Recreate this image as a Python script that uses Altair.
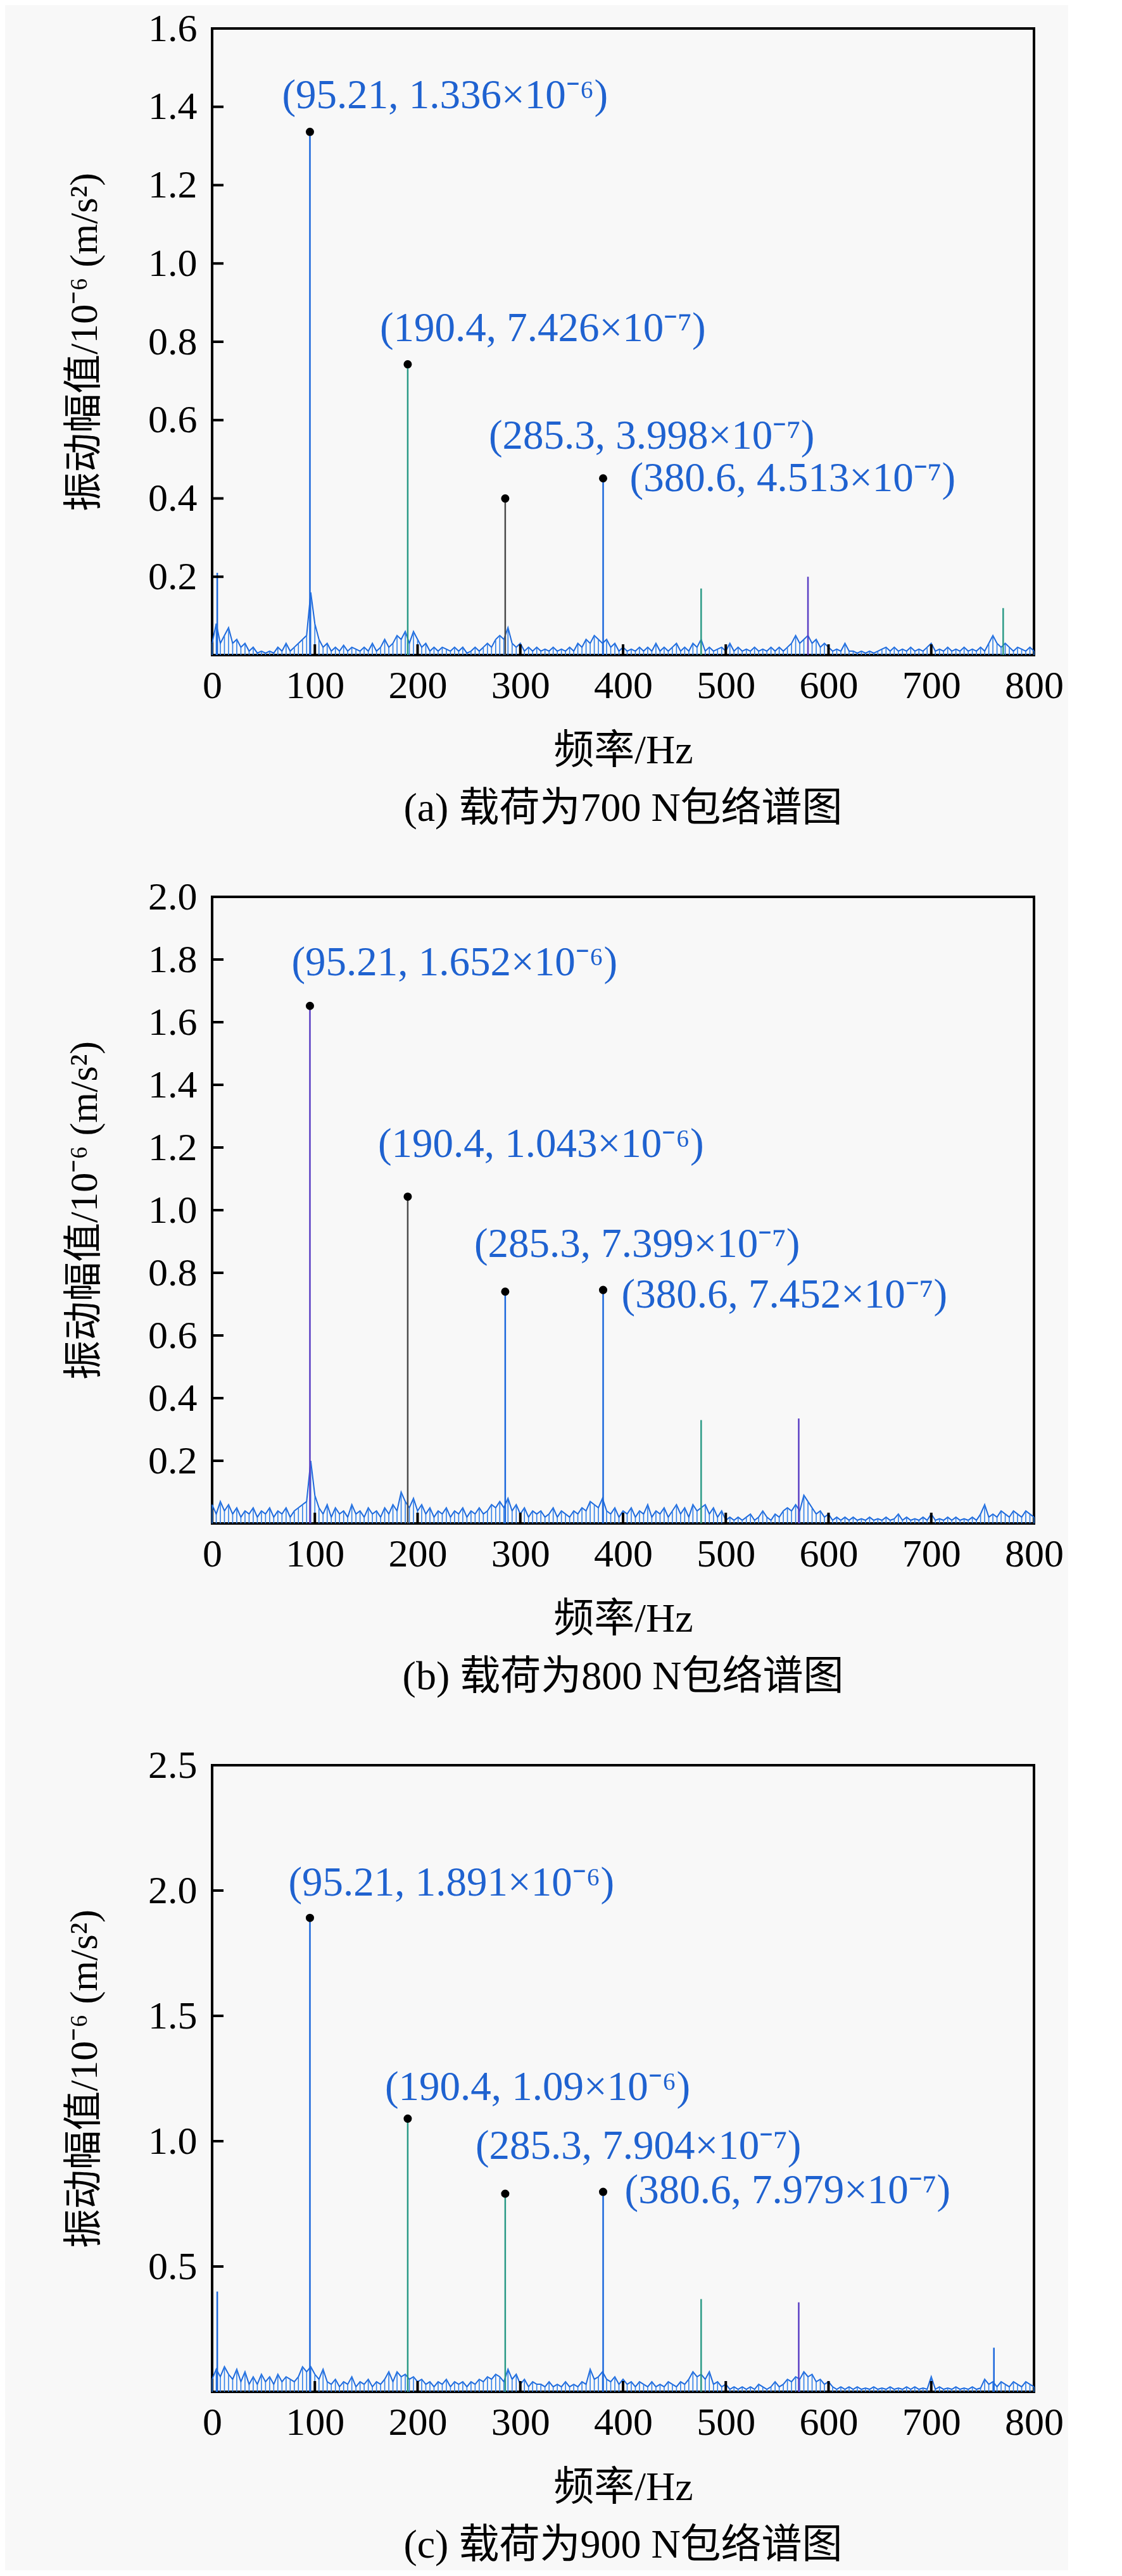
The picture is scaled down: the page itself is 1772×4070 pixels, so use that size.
import altair as alt
import pandas as pd

# ---------------- data (amplitudes in 10^-6 m/s^2) ----------------
freq_grid = [i * 4 for i in range(201)]  # sampled frequencies, Hz

noise_a = [
    0.03, 0.08, 0.03, 0.05, 0.07, 0.03, 0.04, 0.02, 0.03, 0.01,
    0.02, 0.005, 0.01, 0.005, 0.01, 0.005, 0.02, 0.01, 0.03, 0.01,
    0.02, 0.03, 0.04, 0.05, 0.16, 0.08, 0.04, 0.02, 0.03, 0.01,
    0.02, 0.01, 0.025, 0.01, 0.02, 0.015, 0.01, 0.02, 0.01, 0.03,
    0.01, 0.02, 0.04, 0.02, 0.03, 0.05, 0.04, 0.06, 0.03, 0.06,
    0.04, 0.02, 0.03, 0.01, 0.02, 0.01, 0.02, 0.015, 0.01, 0.02,
    0.01, 0.02, 0.005, 0.01, 0.02, 0.01, 0.02, 0.03, 0.02, 0.04,
    0.05, 0.04, 0.07, 0.03, 0.02, 0.03, 0.01, 0.02, 0.01, 0.02,
    0.01, 0.015, 0.01, 0.02, 0.01, 0.015, 0.01, 0.02, 0.01, 0.03,
    0.02, 0.04, 0.03, 0.05, 0.04, 0.03, 0.04, 0.02, 0.03, 0.01,
    0.02, 0.01, 0.015, 0.01, 0.02, 0.01, 0.02, 0.01, 0.03, 0.01,
    0.02, 0.01, 0.02, 0.03, 0.01, 0.02, 0.01, 0.03, 0.02, 0.04,
    0.01, 0.02, 0.01, 0.015, 0.02, 0.01, 0.03, 0.01, 0.02, 0.01,
    0.015, 0.01, 0.02, 0.01, 0.015, 0.01, 0.02, 0.01, 0.02, 0.01,
    0.02, 0.03, 0.05, 0.03, 0.04, 0.05, 0.03, 0.04, 0.02, 0.03,
    0.02, 0.01, 0.015, 0.01, 0.03, 0.01, 0.01, 0.005, 0.01, 0.005,
    0.01, 0.005, 0.01, 0.015, 0.02, 0.01, 0.02, 0.01, 0.015, 0.01,
    0.02, 0.01, 0.015, 0.01, 0.02, 0.03, 0.01, 0.015, 0.01, 0.02,
    0.01, 0.015, 0.01, 0.02, 0.01, 0.015, 0.01, 0.02, 0.01, 0.03,
    0.05, 0.03, 0.02, 0.03, 0.02, 0.01, 0.02, 0.015, 0.01, 0.02,
    0.01,
]
noise_b = [
    0.06, 0.03, 0.07, 0.04, 0.06, 0.03, 0.05, 0.02, 0.04, 0.03,
    0.05, 0.02, 0.04, 0.03, 0.05, 0.02, 0.04, 0.03, 0.05, 0.02,
    0.04, 0.05, 0.06, 0.07, 0.20, 0.09, 0.05, 0.03, 0.06, 0.02,
    0.05, 0.03, 0.04, 0.02, 0.06, 0.03, 0.04, 0.02, 0.05, 0.03,
    0.04, 0.02, 0.05, 0.03, 0.06, 0.04, 0.10, 0.07, 0.05, 0.08,
    0.04, 0.06, 0.03, 0.05, 0.02, 0.04, 0.03, 0.05, 0.02, 0.04,
    0.03, 0.05, 0.02, 0.04, 0.03, 0.05, 0.03, 0.04, 0.06, 0.05,
    0.07, 0.05, 0.08, 0.04, 0.06, 0.03, 0.05, 0.02, 0.04, 0.03,
    0.04, 0.02, 0.03, 0.05, 0.02, 0.04, 0.03, 0.02, 0.04, 0.03,
    0.05, 0.04, 0.07, 0.06, 0.05, 0.08, 0.04, 0.03, 0.05, 0.02,
    0.04, 0.03, 0.05, 0.02, 0.04, 0.03, 0.06, 0.02, 0.04, 0.03,
    0.05, 0.02, 0.04, 0.06, 0.03, 0.05, 0.02, 0.06, 0.04, 0.05,
    0.06, 0.03, 0.05, 0.02, 0.04, 0.01, 0.02, 0.01, 0.02, 0.01,
    0.02, 0.03, 0.01, 0.02, 0.04, 0.02, 0.01, 0.03, 0.02, 0.04,
    0.05, 0.04, 0.06, 0.04, 0.09, 0.07, 0.05, 0.03, 0.04, 0.02,
    0.03, 0.01, 0.02, 0.01, 0.02, 0.01, 0.02, 0.01, 0.015, 0.01,
    0.02, 0.01, 0.015, 0.01, 0.02, 0.01, 0.015, 0.03, 0.01, 0.02,
    0.01, 0.015, 0.01, 0.02, 0.01, 0.03, 0.01, 0.015, 0.01, 0.02,
    0.01, 0.02, 0.01, 0.015, 0.01, 0.02, 0.01, 0.03, 0.06, 0.02,
    0.03, 0.02, 0.04, 0.03, 0.02, 0.04, 0.03, 0.02, 0.04, 0.03,
    0.02,
]
noise_c = [
    0.05, 0.09, 0.06, 0.10, 0.07, 0.05, 0.09, 0.04, 0.08, 0.03,
    0.06, 0.03, 0.07, 0.04, 0.06, 0.03, 0.07, 0.04, 0.06, 0.05,
    0.04, 0.06, 0.10, 0.08, 0.10, 0.07, 0.05, 0.09, 0.04, 0.03,
    0.05, 0.02, 0.04, 0.03, 0.06, 0.02, 0.04, 0.03, 0.05, 0.02,
    0.04, 0.03, 0.05, 0.08, 0.04, 0.08, 0.06, 0.07, 0.05, 0.06,
    0.04, 0.05, 0.03, 0.04, 0.02, 0.04, 0.03, 0.05, 0.02, 0.04,
    0.03, 0.04, 0.02, 0.04, 0.03, 0.05, 0.04, 0.06, 0.05, 0.07,
    0.06, 0.04, 0.09, 0.05, 0.07, 0.03, 0.05, 0.02, 0.04, 0.03,
    0.03, 0.02, 0.04, 0.02, 0.03, 0.02, 0.04, 0.02, 0.03, 0.02,
    0.04, 0.03, 0.09, 0.05, 0.06, 0.08, 0.05, 0.04, 0.06, 0.03,
    0.05, 0.03, 0.04, 0.02, 0.04, 0.03, 0.02, 0.04, 0.02, 0.03,
    0.02, 0.04, 0.03, 0.02, 0.04, 0.03, 0.05, 0.08, 0.06, 0.07,
    0.05, 0.08, 0.03, 0.04, 0.02, 0.03, 0.01, 0.02, 0.01, 0.02,
    0.01, 0.02, 0.01, 0.03, 0.02, 0.01, 0.02, 0.04, 0.02, 0.03,
    0.05, 0.04, 0.06, 0.05, 0.08, 0.06, 0.07, 0.04, 0.05, 0.03,
    0.04, 0.02, 0.01, 0.02, 0.01, 0.02, 0.01, 0.02, 0.01, 0.015,
    0.01, 0.02, 0.01, 0.015, 0.01, 0.02, 0.01, 0.015, 0.01, 0.02,
    0.01, 0.02, 0.01, 0.015, 0.01, 0.06, 0.01, 0.02, 0.01, 0.015,
    0.01, 0.02, 0.01, 0.015, 0.01, 0.02, 0.01, 0.015, 0.05, 0.03,
    0.04, 0.02, 0.04, 0.03, 0.02, 0.04, 0.03, 0.02, 0.04, 0.03,
    0.02,
]

# spectral peaks
peak_f_a = [5, 95.21, 190.4, 285.3, 380.6, 476, 580, 770]
peak_a_a = [0.21, 1.336, 0.7426, 0.3998, 0.4513, 0.17, 0.20, 0.12]
peak_f_b = [95.21, 190.4, 285.3, 380.6, 476, 571]
peak_a_b = [1.652, 1.043, 0.7399, 0.7452, 0.33, 0.335]
peak_f_c = [5, 95.21, 190.4, 285.3, 380.6, 476, 571, 761]
peak_a_c = [0.40, 1.891, 1.09, 0.7904, 0.7979, 0.37, 0.357, 0.176]

# marked harmonics
mark_f = [95.21, 190.4, 285.3, 380.6]
mark_a_a = [1.336, 0.7426, 0.3998, 0.4513]
mark_a_b = [1.652, 1.043, 0.7399, 0.7452]
mark_a_c = [1.891, 1.09, 0.7904, 0.7979]

labels_a = ["(95.21, 1.336×10⁻⁶)", "(190.4, 7.426×10⁻⁷)",
            "(285.3, 3.998×10⁻⁷)", "(380.6, 4.513×10⁻⁷)"]
labels_b = ["(95.21, 1.652×10⁻⁶)", "(190.4, 1.043×10⁻⁶)",
            "(285.3, 7.399×10⁻⁷)", "(380.6, 7.452×10⁻⁷)"]
labels_c = ["(95.21, 1.891×10⁻⁶)", "(190.4, 1.09×10⁻⁶)",
            "(285.3, 7.904×10⁻⁷)", "(380.6, 7.979×10⁻⁷)"]

x_ticks = [0, 100, 200, 300, 400, 500, 600, 700, 800]
y_ticks_a = [0.2, 0.4, 0.6, 0.8, 1.0, 1.2, 1.4, 1.6]
y_ticks_b = [0.2, 0.4, 0.6, 0.8, 1.0, 1.2, 1.4, 1.6, 1.8, 2.0]
y_ticks_c = [0.5, 1.0, 1.5, 2.0, 2.5]

captions = ["(a) 载荷为700 N包络谱图", "(b) 载荷为800 N包络谱图", "(c) 载荷为900 N包络谱图"]

# ---------------- styles ----------------
BLUE = "#1c68dc"
NOISE_STEM = "#2f7fe8"
TEAL = "#2a9a86"
GRAY = "#4a4a4a"
PURPLE = "#5a3fc4"
LABEL_COLOR = "#1f62d0"
peak_col_a = [BLUE, BLUE, TEAL, GRAY, BLUE, TEAL, PURPLE, TEAL]
peak_col_b = [PURPLE, GRAY, BLUE, BLUE, TEAL, PURPLE]
peak_col_c = [BLUE, BLUE, TEAL, TEAL, BLUE, TEAL, PURPLE, BLUE]

# pixel offsets of label text start from its dot
offsets_a = [(-44, -57), (-44, -57), (-26, -99), (42, 0)]
offsets_b = [(-29, -68), (-47, -83), (-49, -75), (29, 8)]
offsets_c = [(-34, -55), (-36, -49), (-47, -75), (34, -2)]

FONT = "Liberation Serif, Noto Sans CJK SC"
W, H = 1298, 990
TICK_FS = 62
TITLE_FS = 62
ANN_FS = 65


def panel(noise, pf, pa, pcol, ma, labels, offs, ymax, yticks, caption):
    xs = alt.Scale(domain=[0, 800], nice=False, zero=False)
    ys = alt.Scale(domain=[0, ymax], nice=False, zero=False)
    xax = alt.Axis(values=x_ticks, title="频率/Hz", format="d", labelPadding=18,
                   labelFlush=False, titleFontSize=64, titlePadding=40)
    yax = alt.Axis(values=yticks, title="振动幅值/10⁻⁶ (m/s²)", format=".1f",
                   labelPadding=24, labelFlush=False, titleFontSize=TITLE_FS,
                   titlePadding=68)
    noise_df = pd.DataFrame({"f": freq_grid, "a": noise})
    base = alt.Chart(noise_df).mark_line(color=BLUE, strokeWidth=2).encode(
        x=alt.X("f:Q", scale=xs, axis=xax),
        y=alt.Y("a:Q", scale=ys, axis=yax),
    )
    noise_stems = alt.Chart(noise_df).mark_rule(color=NOISE_STEM, strokeWidth=1.6).encode(
        x=alt.X("f:Q"), y=alt.Y("a:Q"), y2=alt.datum(0))
    peaks_df = pd.DataFrame({"f": pf, "a": pa, "c": pcol})
    stems = alt.Chart(peaks_df).mark_rule(strokeWidth=2.5).encode(
        x=alt.X("f:Q"), y=alt.Y("a:Q"), y2=alt.datum(0),
        color=alt.Color("c:N", scale=None))
    dots_df = pd.DataFrame({"f": mark_f, "a": ma})
    dots = alt.Chart(dots_df).mark_circle(size=170, color="black", opacity=1).encode(
        x=alt.X("f:Q"), y=alt.Y("a:Q"))
    yt = alt.Chart(pd.DataFrame({"a": yticks})).mark_rule(color="black", strokeWidth=4).encode(
        y=alt.Y("a:Q"), x=alt.value(0), x2=alt.value(18))
    xt = alt.Chart(pd.DataFrame({"f": x_ticks[1:-1]})).mark_rule(color="black", strokeWidth=4).encode(
        x=alt.X("f:Q"), y=alt.value(H), y2=alt.value(H - 17))
    texts = []
    for i in range(4):
        df = pd.DataFrame({"f": [mark_f[i]], "a": [ma[i]], "t": [labels[i]]})
        texts.append(alt.Chart(df).mark_text(
            align="left", baseline="middle", dx=offs[i][0], dy=offs[i][1],
            font=FONT, fontSize=ANN_FS, color=LABEL_COLOR).encode(
            x=alt.X("f:Q"), y=alt.Y("a:Q"), text="t:N"))
    return alt.layer(base, noise_stems, stems, xt, yt, dots, *texts).properties(
        width=W, height=H,
        title=alt.TitleParams(caption, orient="bottom", anchor="middle", font=FONT,
                              fontSize=64, fontWeight="normal", color="black", offset=28),
    )


pa = panel(noise_a, peak_f_a, peak_a_a, peak_col_a, mark_a_a, labels_a, offsets_a, 1.6, y_ticks_a, captions[0])
pb = panel(noise_b, peak_f_b, peak_a_b, peak_col_b, mark_a_b, labels_b, offsets_b, 2.0, y_ticks_b, captions[1])
pc = panel(noise_c, peak_f_c, peak_a_c, peak_col_c, mark_a_c, labels_c, offsets_c, 2.5, y_ticks_c, captions[2])

chart = alt.vconcat(pa, pb, pc, spacing=72).properties(
    padding={"left": 92, "top": 4, "right": 5, "bottom": 5},
    background="#f8f8f8",
).configure_view(
    stroke="black", strokeWidth=4, fill="#f8f8f8"
).configure_axis(
    ticks=False, tickSize=0, domain=False, grid=False,
    labelFont=FONT, labelFontSize=TICK_FS, labelColor="black",
    titleFont=FONT, titleFontWeight="normal", titleColor="black",
)

chart.save("out.html", embed_options={"renderer": "svg", "actions": False})
